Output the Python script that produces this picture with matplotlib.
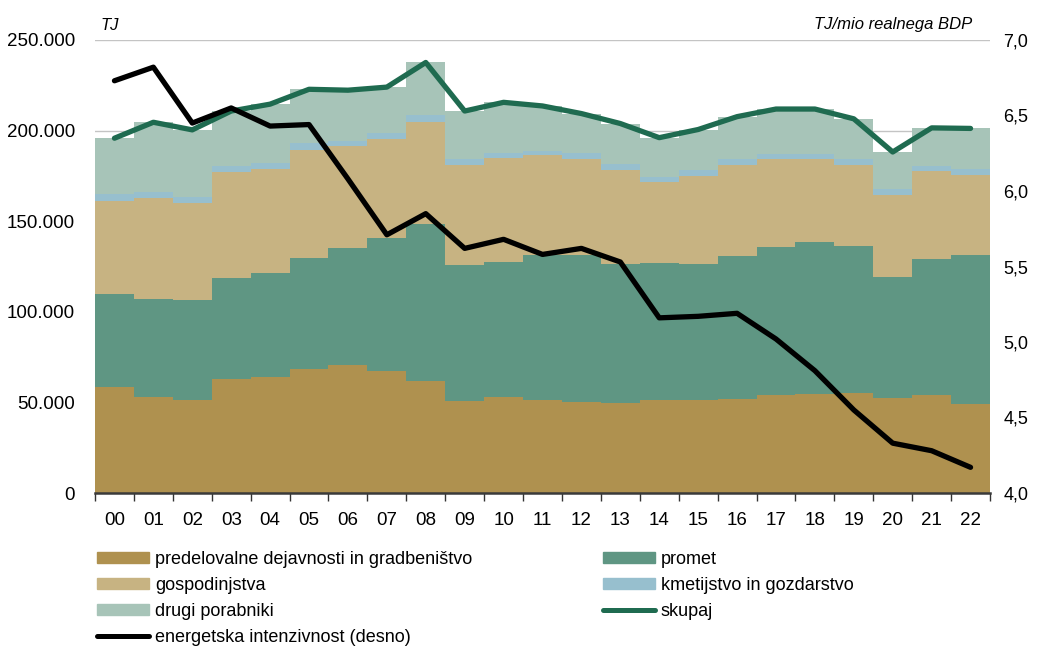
import numpy as np
import matplotlib
matplotlib.use("Agg")
import matplotlib.pyplot as plt
from matplotlib import font_manager
from matplotlib.patches import Patch
from matplotlib.lines import Line2D
from matplotlib.ticker import FuncFormatter, FixedLocator

# pisava: ozka, če je na voljo
imena = {f.name for f in font_manager.fontManager.ttflist}
if "Liberation Sans Narrow" in imena:
    plt.rcParams["font.family"] = ["Liberation Sans Narrow", "DejaVu Sans"]
else:
    plt.rcParams["font.family"] = ["Liberation Sans", "DejaVu Sans"]

# podatki (TJ)
leta = ["00", "01", "02", "03", "04", "05", "06", "07", "08", "09", "10", "11",
        "12", "13", "14", "15", "16", "17", "18", "19", "20", "21", "22"]
predelovalne = [58300, 53000, 51300, 63100, 64000, 68600, 70600, 67200, 61800, 50800, 52800, 51300,
                50100, 49700, 51300, 51300, 51900, 53900, 54800, 55000, 52300, 53900, 49100]
promet = [51300, 53900, 55000, 55400, 57600, 61300, 64700, 73600, 86700, 75100, 74800, 80000,
          81000, 76700, 75800, 75100, 79100, 81700, 83900, 81300, 66800, 75200, 82400]
gospodinjstva = [51700, 55700, 53700, 58800, 57200, 59600, 56100, 54500, 56500, 55200, 57400, 55200,
                 53400, 52000, 44400, 48700, 49900, 48600, 45500, 44500, 45400, 48700, 43800]
kmetijstvo = [3500, 3300, 3100, 3300, 3100, 3500, 3100, 3100, 3500, 3100, 2800, 2400,
              2900, 2900, 3100, 3100, 3300, 3100, 3100, 3300, 3100, 2900, 3300]
drugi = [31000, 38700, 37300, 30200, 32700, 29800, 27800, 25600, 29100, 26600, 27800, 24700,
         22000, 22600, 21500, 22400, 23500, 24600, 24600, 22400, 20600, 20800, 22600]
# energetska intenzivnost (TJ/mio realnega BDP)
intenzivnost = [6.73, 6.82, 6.45, 6.55, 6.43, 6.44, 6.08, 5.71, 5.85, 5.62, 5.68, 5.58,
                5.62, 5.53, 5.16, 5.17, 5.19, 5.02, 4.81, 4.55, 4.33, 4.28, 4.17]

serije = [predelovalne, promet, gospodinjstva, kmetijstvo, drugi]
imena_serij = ["predelovalne dejavnosti in gradbeništvo", "promet", "gospodinjstva",
               "kmetijstvo in gozdarstvo", "drugi porabniki"]
barve = ["#AF914F", "#5F9683", "#C7B382", "#97BFCE", "#A7C4B8"]
c_skupaj = "#1F6B50"

x = np.arange(len(leta))
robovi = np.arange(len(leta) + 1) - 0.5

fig = plt.figure(figsize=(10.37, 6.5), dpi=100)
ax = fig.add_axes([95 / 1037, 1 - 493 / 650, 895 / 1037, 453 / 650])

# mreža v ozadju
for v in range(0, 250001, 50000):
    ax.axhline(v, color="#C4C4C4", lw=1, zorder=0)

spodaj = np.zeros(len(leta))
for vals, barva in zip(serije, barve):
    zgoraj = spodaj + np.array(vals)
    ax.stairs(zgoraj, robovi, baseline=spodaj, fill=True, color=barva, lw=0, zorder=1)
    spodaj = zgoraj

skupaj = spodaj
ax.plot(x, skupaj, color=c_skupaj, lw=3.8, solid_capstyle="round", solid_joinstyle="round", zorder=3)

ax.set_xlim(-0.5, len(leta) - 0.5)
ax.set_ylim(0, 250000)
ax.set_yticks(range(0, 250001, 50000))
ax.yaxis.set_major_formatter(FuncFormatter(lambda v, p: f"{int(v):,}".replace(",", ".")))
ax.set_xticks(x)
ax.set_xticklabels(leta)
ax.xaxis.set_minor_locator(FixedLocator(robovi))
ax.tick_params(axis="x", which="major", length=0, pad=14, labelsize=13.5)
ax.tick_params(axis="x", which="minor", length=6, width=1, color="#333333")
ax.tick_params(axis="y", length=0, pad=14.5, labelsize=13.5)
for s in ["top", "left", "right"]:
    ax.spines[s].set_visible(False)
ax.spines["bottom"].set_color("#3A3A3A")
ax.spines["bottom"].set_linewidth(1.8)
ax.spines["bottom"].set_zorder(4)

# desna os
ax2 = ax.twinx()
ax2.plot(x, intenzivnost, color="black", lw=3.8, solid_capstyle="round", solid_joinstyle="round")
ax2.set_ylim(4.0, 7.0)
ax2.set_yticks(np.arange(4.0, 7.01, 0.5))
ax2.yaxis.set_major_formatter(FuncFormatter(lambda v, p: f"{v:.1f}".replace(".", ",")))
ax2.tick_params(axis="y", length=0, pad=9.5, labelsize=13)
for s in ["top", "left", "right", "bottom"]:
    ax2.spines[s].set_visible(False)

fig.text(100 / 1037, 1 - 25 / 650, "TJ", style="italic", fontsize=12, va="center", ha="left")
fig.text(972 / 1037, 1 - 25 / 650, "TJ/mio realnega BDP", style="italic", fontsize=12,
         va="center", ha="right")

# legenda v dveh stolpcih
h = [Patch(color=b) for b in barve]
h_skupaj = Line2D([], [], color=c_skupaj, lw=3.6, solid_capstyle="round")
h_int = Line2D([], [], color="black", lw=3.6, solid_capstyle="round")
opts = dict(frameon=False, loc="upper left", borderpad=0, borderaxespad=0, handlelength=2.9,
            handleheight=0.55, handletextpad=0.3, labelspacing=0.5, fontsize=13)
leg1 = fig.legend([h[0], h[2], h[4], h_int],
                  [imena_serij[0], imena_serij[2], imena_serij[4], "energetska intenzivnost (desno)"],
                  bbox_to_anchor=(97 / 1037, 1 - 551 / 650), **opts)
leg2 = fig.legend([h[1], h[3], h_skupaj], [imena_serij[1], imena_serij[3], "skupaj"],
                  bbox_to_anchor=(603 / 1037, 1 - 551 / 650), **opts)

fig.savefig("out.png", dpi=100)
